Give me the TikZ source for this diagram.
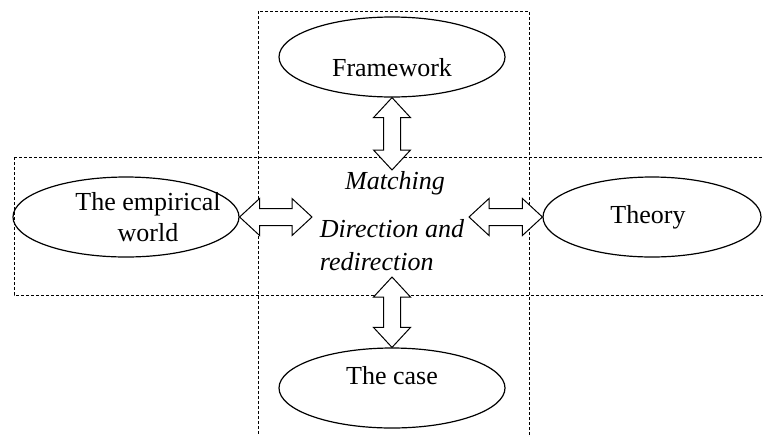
\documentclass[tikz,border=0pt]{standalone}
\usepackage{fontspec}
\setmainfont{Liberation Serif}
\usetikzlibrary{shapes.geometric,
                calc}
\tikzset{idea/.style = {ellipse,
                     draw,
                     line width=0.6pt,
                     minimum width=113pt,
                     minimum height=40pt,
                     inner sep=0pt
                    },
         ideatext/.style = {
                     font=\fontsize{13}{15.5}\selectfont,
                     align=center,
                     inner sep=0pt
         },
         keyword/.style = {
                     font=\fontsize{13}{16.5}\selectfont\itshape,
                     align=left,
                     inner sep=0pt
         },
         region/.style = {
                     draw,
                     line width=0.5pt,
                     dash pattern=on 1.5pt off 1pt
         },
         twoway/.style = {
            draw,fill=white,line width=0.5pt,
            to path={(\tikztostart)
              -- ($(\tikztostart)!10pt!(\tikztotarget)!9.25pt!90:(\tikztotarget)$)
              -- ($(\tikztostart)!10pt!(\tikztotarget)!4.25pt!90:(\tikztotarget)$)
              -- ($(\tikztotarget)!10pt!(\tikztostart)!4.25pt!-90:(\tikztostart)$)
              -- ($(\tikztotarget)!10pt!(\tikztostart)!9.25pt!-90:(\tikztostart)$)
              -- (\tikztotarget)
              -- ($(\tikztotarget)!10pt!(\tikztostart)!9.25pt!90:(\tikztostart)$)
              -- ($(\tikztotarget)!10pt!(\tikztostart)!4.25pt!90:(\tikztostart)$)
              -- ($(\tikztostart)!10pt!(\tikztotarget)!4.25pt!-90:(\tikztotarget)$)
              -- ($(\tikztostart)!10pt!(\tikztotarget)!9.25pt!-90:(\tikztotarget)$)
              -- cycle}
         }
        }

\begin{document}
\begin{tikzpicture}[x=0.5pt,y=-0.5pt]
        \useasboundingbox (0,0) rectangle (763,434);
        \clip (0,0) rectangle (763,434);

        \path[region] (258,11) rectangle (529,445);
        \path[region] (14,157) rectangle (775,295);

        \node[idea] (framework) at (392,57) {};
        \node[idea] (empirical) at (126,217) {};
        \node[idea,minimum width=109pt] (theory) at (652,217) {};
        \node[idea] (case) at (392,388) {};

        \node[ideatext] (frameworktext) at ([yshift=-5.5pt]framework.center) {Framework};
        \node[ideatext] (empiricaltext) at ([xshift=11pt]empirical.center) {The empirical\\world};
        \node[ideatext] (theorytext) at ([xshift=-2pt]theory.center) {Theory};
        \node[ideatext] (casetext) at ([yshift=6pt]case.center) {The case};

        \node[keyword] (matching) at (395,183) {Matching};
        \node[keyword] (direction) at (392,245) {Direction and\\redirection};

        \coordinate (midtop) at (392,170);
        \coordinate (midbottom) at (392,277);
        \coordinate (midleft) at (312,217);
        \coordinate (midright) at (469,217);

        \path[twoway] (framework.south) to (midtop);
        \path[twoway] (midbottom) to (case.north);
        \path[twoway] (empirical.east) to (midleft);
        \path[twoway] (midright) to (theory.west);
    \end{tikzpicture}
\end{document}
